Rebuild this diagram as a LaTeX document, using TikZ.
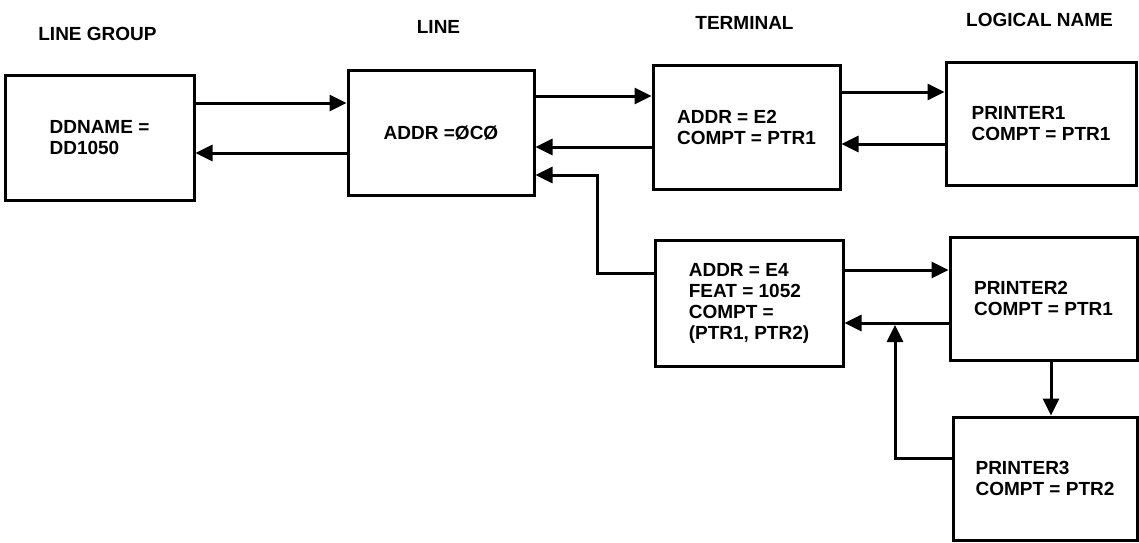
\documentclass[tikz,border=0pt]{standalone}
\usepackage{fontspec}
\setmainfont{Liberation Sans}
\usetikzlibrary{arrows.meta}
\begin{document}
\begin{tikzpicture}[x=1pt,y=-1pt,
  box/.style={draw, line width=3pt, inner sep=0pt, align=left,
    font=\fontsize{19}{21}\selectfont\bfseries},
  hdr/.style={anchor=base, inner sep=0pt, font=\fontsize{19}{21}\selectfont\bfseries},
  arr/.style={line width=3pt, -{Triangle[length=17pt,width=16pt]}}]
\useasboundingbox (0,0) rectangle (1139,542);

% headers
\node[hdr] (hLG) at (97.5,40) {LINE GROUP};
\node[hdr] (hL)  at (438.5,33) {LINE};
\node[hdr] (hT)  at (744.5,29) {TERMINAL};
\node[hdr] (hN)  at (1039.5,26) {LOGICAL NAME};

% boxes
\node[box, minimum width=189pt, minimum height=125pt] (LG) at (99.5,137.5) {DDNAME =\\DD1050};
\node[box, minimum width=186pt, minimum height=125pt] (LINE) at (441,132.5) {ADDR =ØCØ};
\node[box, minimum width=187pt, minimum height=124pt] (T1) at (746.5,127) {ADDR = E2\\COMPT = PTR1};
\node[box, minimum width=190pt, minimum height=123pt] (P1) at (1041,123.5) {PRINTER1\\COMPT = PTR1};
\node[box, minimum width=188pt, minimum height=126pt] (T2) at (749,303) {ADDR = E4\\FEAT = 1052\\COMPT =\\(PTR1, PTR2)};
\node[box, minimum width=187pt, minimum height=123pt] (P2) at (1043.5,298.5) {PRINTER2\\COMPT = PTR1};
\node[box, minimum width=184pt, minimum height=123pt] (P3) at (1045,478.5) {PRINTER3\\COMPT = PTR2};

% connectors
\draw[arr] (LG.east |- 0,103) -- (LINE.west |- 0,103);
\draw[arr] (LINE.west |- 0,153) -- (LG.east |- 0,153);
\draw[arr] (LINE.east |- 0,96) -- (T1.west |- 0,96);
\draw[arr] (T1.west |- 0,147) -- (LINE.east |- 0,147);
\draw[arr] (T1.east |- 0,92) -- (P1.west |- 0,92);
\draw[arr] (P1.west |- 0,144) -- (T1.east |- 0,144);

\coordinate (c1) at (597,273);
\coordinate (c2) at (597,175);
\draw[arr] (T2.west |- c1) -- (c1) -- (c2) -- (LINE.east |- c2);

\draw[arr] (T2.east |- 0,270) -- (P2.west |- 0,270);
\draw[arr] (P2.west |- 0,323) -- (T2.east |- 0,323);
\draw[arr] (P2.south -| 1051,0) -- (P3.north -| 1051,0);

\coordinate (c3) at (895,458);
\coordinate (c4) at (895,325);
\draw[arr] (P3.west |- c3) -- (c3) -- (c4);
\end{tikzpicture}
\end{document}
